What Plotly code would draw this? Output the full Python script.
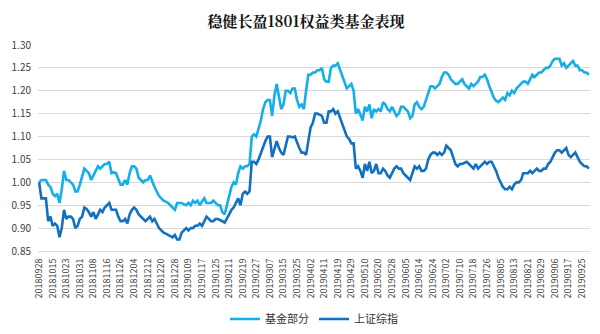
import pandas as pd
import plotly.graph_objects as go

# Trading calendar (Shanghai exchange), 2018-09-28 .. 2019-09-30
start_date = "2018-09-28"
end_date = "2019-09-30"
holidays = ["2018-10-01", "2018-10-02", "2018-10-03", "2018-10-04", "2018-10-05",
            "2018-12-31", "2019-01-01",
            "2019-02-04", "2019-02-05", "2019-02-06", "2019-02-07", "2019-02-08",
            "2019-04-05", "2019-05-01", "2019-05-02", "2019-05-03",
            "2019-06-07", "2019-09-13"]

days = pd.bdate_range(start_date, end_date)
days = days[~days.isin(pd.to_datetime(holidays))]
categories = [d.strftime("%Y%m%d") for d in days]

tick_labels = ["20180928", "20181015", "20181023", "20181031", "20181108", "20181116",
               "20181126", "20181204", "20181212", "20181220", "20181228", "20190109",
               "20190117", "20190125", "20190211", "20190219", "20190227", "20190307",
               "20190315", "20190325", "20190402", "20190411", "20190419", "20190429",
               "20190510", "20190520", "20190528", "20190605", "20190614", "20190624",
               "20190702", "20190710", "20190718", "20190726", "20190805", "20190813",
               "20190821", "20190829", "20190906", "20190917", "20190925"]

fund = [
    1.000, 1.005, 1.005, 1.005, 0.995, 0.990, 0.975, 0.970, 0.975, 0.955,
    0.985, 1.025, 1.005, 1.005, 1.000, 0.995, 0.980, 0.980, 0.995, 1.010,
    1.030, 1.025, 1.020, 1.005, 1.015, 1.025, 1.035, 1.030, 1.035, 1.040,
    1.040, 1.045, 1.020, 1.022, 1.020, 1.005, 0.995, 0.995, 1.005, 0.995,
    1.020, 1.035, 1.035, 1.030, 1.010, 1.005, 1.000, 1.005, 1.005, 1.015,
    1.000, 0.990, 0.980, 0.970, 0.965, 0.960, 0.958, 0.955, 0.950, 0.945,
    0.940, 0.955, 0.955, 0.955, 0.952, 0.950, 0.955, 0.950, 0.960, 0.955,
    0.960, 0.950, 0.958, 0.965, 0.955, 0.955, 0.955, 0.960, 0.955, 0.950,
    0.950, 0.935, 0.930, 0.950, 0.975, 0.990, 1.000, 0.995, 1.020, 1.035,
    1.030, 1.035, 1.035, 1.040, 1.100, 1.105, 1.100, 1.115, 1.135, 1.160,
    1.175, 1.180, 1.180, 1.145, 1.190, 1.215, 1.190, 1.160, 1.170, 1.200,
    1.200, 1.195, 1.205, 1.205, 1.180, 1.165, 1.170, 1.160, 1.200, 1.235,
    1.235, 1.240, 1.240, 1.245, 1.245, 1.250, 1.225, 1.220, 1.220, 1.250,
    1.255, 1.255, 1.260, 1.245, 1.235, 1.220, 1.205, 1.210, 1.215, 1.200,
    1.150, 1.160, 1.145, 1.135, 1.165, 1.155, 1.170, 1.140, 1.160, 1.155,
    1.160, 1.155, 1.175, 1.170, 1.160, 1.155, 1.165, 1.155, 1.145, 1.150,
    1.165, 1.165, 1.160, 1.155, 1.140, 1.145, 1.170, 1.175, 1.165, 1.160,
    1.165, 1.180, 1.200, 1.210, 1.210, 1.205, 1.210, 1.215, 1.230, 1.240,
    1.240, 1.235, 1.225, 1.220, 1.215, 1.215, 1.220, 1.225, 1.215, 1.210,
    1.205, 1.215, 1.210, 1.215, 1.220, 1.230, 1.230, 1.235, 1.225, 1.210,
    1.195, 1.185, 1.178, 1.175, 1.180, 1.185, 1.180, 1.195, 1.190, 1.200,
    1.195, 1.205, 1.210, 1.215, 1.220, 1.220, 1.215, 1.225, 1.235, 1.230,
    1.235, 1.240, 1.240, 1.245, 1.250, 1.250, 1.255, 1.265, 1.270, 1.270,
    1.270, 1.255, 1.260, 1.250, 1.255, 1.260, 1.265, 1.255, 1.255, 1.245,
    1.245, 1.240, 1.240, 1.235]

sse = [
    1.000, 0.965, 0.965, 0.965, 0.915, 0.925, 0.905, 0.910, 0.905, 0.880,
    0.900, 0.940, 0.920, 0.925, 0.925, 0.920, 0.900, 0.905, 0.920, 0.925,
    0.945, 0.942, 0.935, 0.925, 0.935, 0.920, 0.930, 0.940, 0.935, 0.945,
    0.950, 0.955, 0.940, 0.940, 0.940, 0.925, 0.915, 0.915, 0.920, 0.910,
    0.930, 0.940, 0.945, 0.940, 0.930, 0.925, 0.920, 0.915, 0.920, 0.925,
    0.915, 0.920, 0.910, 0.900, 0.895, 0.890, 0.888, 0.885, 0.882, 0.880,
    0.885, 0.875, 0.875, 0.890, 0.895, 0.900, 0.895, 0.900, 0.900, 0.905,
    0.905, 0.910, 0.905, 0.915, 0.925, 0.920, 0.915, 0.915, 0.920, 0.920,
    0.918, 0.915, 0.912, 0.920, 0.930, 0.940, 0.945, 0.955, 0.965, 0.950,
    0.975, 0.980, 0.975, 0.980, 1.045, 1.045, 1.040, 1.050, 1.065, 1.075,
    1.090, 1.100, 1.100, 1.055, 1.070, 1.090, 1.075, 1.065, 1.060, 1.080,
    1.100, 1.100, 1.098, 1.100, 1.085, 1.075, 1.065, 1.065, 1.060, 1.090,
    1.120, 1.130, 1.150, 1.150, 1.148, 1.145, 1.130, 1.130, 1.155, 1.155,
    1.160, 1.150, 1.155, 1.140, 1.130, 1.115, 1.100, 1.095, 1.085, 1.085,
    1.030, 1.035, 1.025, 1.010, 1.040, 1.025, 1.045, 1.020, 1.025, 1.040,
    1.020, 1.020, 1.030, 1.025, 1.015, 1.010, 1.020, 1.030, 1.035, 1.030,
    1.030, 1.020, 1.015, 1.010, 1.005, 1.020, 1.035, 1.030, 1.035, 1.025,
    1.025, 1.030, 1.050, 1.060, 1.065, 1.065, 1.060, 1.065, 1.060, 1.065,
    1.080, 1.075, 1.070, 1.055, 1.040, 1.035, 1.040, 1.040, 1.042, 1.045,
    1.040, 1.035, 1.030, 1.040, 1.030, 1.035, 1.040, 1.045, 1.040, 1.045,
    1.045, 1.035, 1.025, 1.010, 1.000, 0.990, 0.985, 0.985, 0.990, 0.985,
    0.995, 1.000, 1.000, 1.005, 1.020, 1.020, 1.020, 1.025, 1.020, 1.025,
    1.030, 1.025, 1.025, 1.030, 1.030, 1.040, 1.045, 1.055, 1.065, 1.070,
    1.070, 1.065, 1.070, 1.075, 1.060, 1.055, 1.060, 1.065, 1.055, 1.045,
    1.040, 1.035, 1.035, 1.030]

n = min(len(categories), len(fund), len(sse))
x = categories[:n]

fig = go.Figure()
fig.add_trace(go.Scatter(x=x, y=fund[:n], mode="lines", name="基金部分",
                         line=dict(color="#14AEEA", width=2.6)))
fig.add_trace(go.Scatter(x=x, y=sse[:n], mode="lines", name="上证综指",
                         line=dict(color="#1170C0", width=2.6)))

fig.update_layout(
    width=600, height=334,
    margin=dict(l=38, r=10, t=45, b=83),
    paper_bgcolor="white", plot_bgcolor="white",
    title=dict(text="<b>稳健长盈1801权益类基金表现</b>", x=0.51, xanchor="center",
               y=0.935, yanchor="middle",
               font=dict(family="Noto Serif CJK SC, Noto Sans CJK SC, serif", size=15, color="#111111")),
    font=dict(family="Noto Sans CJK SC, DejaVu Sans, sans-serif", size=10, color="#404040"),
    showlegend=True,
    legend=dict(orientation="h", x=0.5, xanchor="center", yref="container",
                y=0.045, yanchor="middle",
                font=dict(size=11, color="#333333"), itemwidth=30, tracegroupgap=0),
    hovermode=False,
)
fig.update_xaxes(type="category", categoryorder="array", categoryarray=x,
                 tickmode="array", tickvals=tick_labels, ticktext=tick_labels,
                 tickangle=-90, tickfont=dict(size=9, color="#404040"),
                 showgrid=False, showline=True, linecolor="#d9d9d9", linewidth=1,
                 ticks="", ticklabelstandoff=3, range=[-0.5, n - 0.5], automargin=False)
fig.update_yaxes(range=[0.85, 1.30], dtick=0.05, tick0=0.85, tickformat=".2f",
                 showgrid=True, gridcolor="#d9d9d9", gridwidth=1, zeroline=False,
                 showline=False, ticks="", ticklabelstandoff=6,
                 tickfont=dict(size=10, color="#404040"),
                 automargin=False)

fig.write_html("out.html")
